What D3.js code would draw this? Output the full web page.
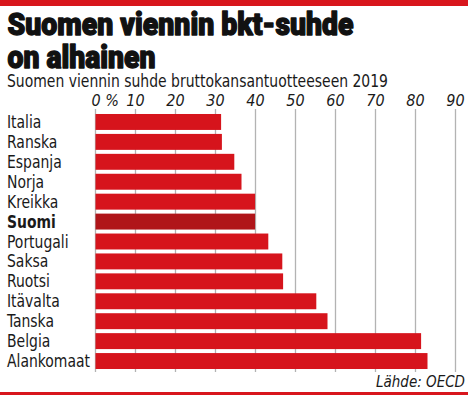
<!DOCTYPE html>
<html>
<head>
<meta charset="utf-8">
<script src="https://cdn.jsdelivr.net/npm/d3@7"></script>
<style>
  body { margin: 0; background: #fff; }
  svg { display: block; }
  .narrow { font-family: "Liberation Sans Narrow", "DejaVu Sans Condensed", sans-serif; fill: #1a1a1a; }
</style>
</head>
<body>
<svg id="chart" width="468" height="395"></svg>
<script>
// data
var countries = ["Italia", "Ranska", "Espanja", "Norja", "Kreikka", "Suomi", "Portugali",
                 "Saksa", "Ruotsi", "Itävalta", "Tanska", "Belgia", "Alankomaat"];
var exportShare = [31.4, 31.6, 34.7, 36.5, 39.9, 39.9, 43.2, 46.7, 46.9, 55.2, 58.0, 81.4, 83.0];
var tickValues = [0, 10, 20, 30, 40, 50, 60, 70, 80, 90];
var highlight = "Suomi";

var svg = d3.select("#chart"),
    width = +svg.attr("width"),
    height = +svg.attr("height");

var rows = countries.map(function(c, i) { return {name: c, value: exportShare[i]}; });

// red bands at top and bottom
svg.append("rect").attr("x", 0).attr("y", 0).attr("width", width).attr("height", 6).attr("fill", "#d8161d");
svg.append("rect").attr("x", 0).attr("y", 392).attr("width", width).attr("height", 3).attr("fill", "#d8161d");

// title (heavy, condensed look: bold + stroke, squeezed to width)
var titleStyle = function(t) {
  t.attr("x", 7.5)
   .style("font-family", "Roboto, Lato, 'DejaVu Sans', sans-serif")
   .style("font-weight", 900)
   .style("font-size", "31px")
   .attr("fill", "#111")
   .attr("stroke", "#111")
   .attr("stroke-width", 1.4)
   .attr("stroke-linejoin", "round")
   .attr("lengthAdjust", "spacingAndGlyphs");
};
svg.append("text").call(titleStyle).attr("y", 35).attr("textLength", 346).text("Suomen viennin bkt-suhde");
svg.append("text").call(titleStyle).attr("y", 68).attr("textLength", 148).text("on alhainen");

svg.append("text")
  .attr("class", "narrow")
  .attr("x", 7).attr("y", 87)
  .style("font-size", "17px")
  .attr("textLength", 381).attr("lengthAdjust", "spacingAndGlyphs")
  .text("Suomen viennin suhde bruttokansantuotteeseen 2019");

// scales
var xScale = d3.scaleLinear()
  .domain([0, 90])
  .range([95.5, 455.5]);

var yScale = d3.scaleBand()
  .domain(countries)
  .range([112, 371])
  .paddingInner(0.2)
  .paddingOuter(0.1);

// gridlines
svg.append("g")
  .selectAll("line")
  .data(tickValues)
  .enter()
  .append("line")
  .attr("x1", function(d) { return xScale(d); })
  .attr("x2", function(d) { return xScale(d); })
  .attr("y1", 109)
  .attr("y2", 372)
  .attr("stroke", "#b3b3b3")
  .attr("stroke-width", 1.3);

// tick labels
svg.append("g")
  .selectAll("text")
  .data(tickValues)
  .enter()
  .append("text")
  .attr("class", "narrow")
  .attr("x", function(d) { return d === 0 ? xScale(d) - 4 : xScale(d); })
  .attr("y", 106)
  .attr("text-anchor", function(d) { return d === 0 ? "start" : "middle"; })
  .style("font-size", "16px")
  .style("font-style", "italic")
  .text(function(d) { return d === 0 ? "0 %" : d; });

// bars
svg.append("g")
  .selectAll("rect")
  .data(rows)
  .enter()
  .append("rect")
  .attr("x", xScale(0))
  .attr("y", function(d) { return yScale(d.name); })
  .attr("width", function(d) { return xScale(d.value) - xScale(0); })
  .attr("height", yScale.bandwidth())
  .attr("fill", function(d) { return d.name === highlight ? "#b01519" : "#d6141c"; });

// category labels
var labels = svg.append("g")
  .selectAll("text")
  .data(rows)
  .enter()
  .append("text")
  .attr("class", "narrow")
  .attr("x", 7)
  .attr("y", function(d) { return yScale(d.name) + yScale.bandwidth() / 2 + 6; })
  .style("font-size", "17px")
  .style("font-weight", function(d) { return d.name === highlight ? "bold" : "normal"; })
  .text(function(d) { return d.name; });

// squeeze labels so the longest one ends where it does in the print
var longest = labels.filter(function(d) { return d.name === "Alankomaat"; }).node().getComputedTextLength();
var squeeze = Math.min(1, 83 / longest);
labels.each(function() {
  var w = this.getComputedTextLength();
  d3.select(this).attr("textLength", w * squeeze).attr("lengthAdjust", "spacingAndGlyphs");
});

// source
svg.append("text")
  .attr("class", "narrow")
  .attr("x", 465).attr("y", 387)
  .attr("text-anchor", "end")
  .style("font-size", "15px")
  .style("font-style", "italic")
  .text("Lähde: OECD");
</script>
</body>
</html>
